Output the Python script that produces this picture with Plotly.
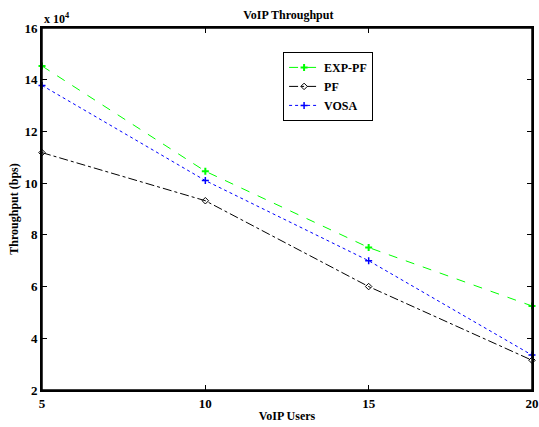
import plotly.graph_objects as go

users = [5, 10, 15, 20]
exp_pf = [145300, 104600, 75100, 52500]
pf = [111800, 93200, 60000, 31500]
vosa = [137800, 101000, 70000, 33500]
ytick_vals = [20000, 40000, 60000, 80000, 100000, 120000, 140000, 160000]
ytick_text = ["2", "4", "6", "8", "10", "12", "14", "16"]
xtick_vals = [5, 10, 15, 20]

FONT = "Liberation Serif"

fig = go.Figure()
fig.add_trace(go.Scatter(x=users, y=exp_pf, name="<b>EXP-PF</b>", mode="lines+markers", cliponaxis=False,
                         line=dict(color="#00ff00", dash="dash", width=1),
                         marker=dict(symbol="cross-thin", size=5, line=dict(color="#00ff00", width=2))))
fig.add_trace(go.Scatter(x=users, y=pf, name="<b>PF</b>", mode="lines+markers", cliponaxis=False,
                         line=dict(color="black", dash="dashdot", width=1),
                         marker=dict(symbol="diamond-open", size=5, color="black", line=dict(width=1))))
fig.add_trace(go.Scatter(x=users, y=vosa, name="<b>VOSA</b>", mode="lines+markers", cliponaxis=False,
                         line=dict(color="blue", dash="dot", width=1),
                         marker=dict(symbol="cross-thin", size=5, line=dict(color="blue", width=1.5))))

axis_common = dict(showline=True, linecolor="black", linewidth=2, mirror="ticks", automargin=False,
                   ticks="inside", ticklen=5, tickcolor="black", showgrid=False, zeroline=False,
                   tickfont=dict(family=FONT, size=13, color="black"))

fig.update_layout(
    width=539, height=427,
    margin=dict(l=42, r=7, t=28, b=37),
    paper_bgcolor="white", plot_bgcolor="white",
    font=dict(family=FONT, color="black"),
    title=dict(text="<b>VoIP Throughput</b>", x=0.535, xanchor="center", y=0.965, yanchor="middle",
               font=dict(family=FONT, size=12, color="black")),
    xaxis=dict(range=[5, 20], tickvals=xtick_vals, ticktext=[f"<b>{v}</b>" for v in xtick_vals],
               title=dict(text="<b>VoIP Users</b>", font=dict(family=FONT, size=12), standoff=2),
               **axis_common),
    yaxis=dict(range=[20000, 160000], tickvals=ytick_vals, ticktext=[f"<b>{t}</b>" for t in ytick_text],
               title=dict(text="<b>Throughput (bps)</b>", font=dict(family=FONT, size=12), standoff=3),
               **axis_common),
    legend=dict(x=0.492, y=0.934, xanchor="left", yanchor="top",
                bordercolor="black", borderwidth=1, bgcolor="white",
                font=dict(family=FONT, size=12, color="black"),
                itemwidth=30, tracegroupgap=0),
    showlegend=True,
)
fig.add_shape(type="rect", xref="paper", yref="paper", x0=0, y0=0, x1=1, y1=1,
              line=dict(color="black", width=1.5), layer="above")
fig.add_annotation(text="<b>x 10<sup>4</sup></b>", xref="paper", yref="paper", x=0.0, y=1.0,
                   xanchor="left", yanchor="bottom", showarrow=False, yshift=0,
                   font=dict(family=FONT, size=12, color="black"))

fig.write_html("out.html", config={"displayModeBar": False},
               post_script="document.body.style.margin='0';document.body.style.overflow='hidden';")
